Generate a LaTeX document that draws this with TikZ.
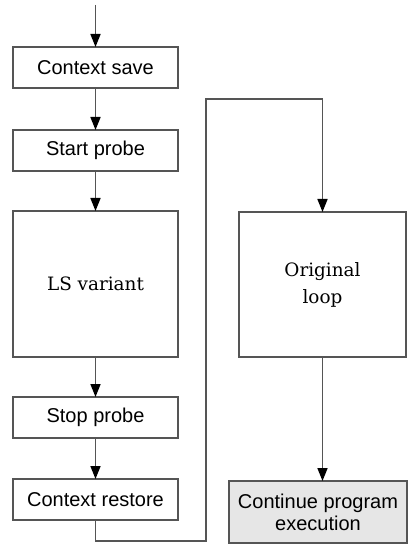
\documentclass[tikz,border=0pt]{standalone}
\usepackage{fontspec}
\setmainfont{Liberation Sans}
\newfontfamily\loopfont{DejaVu Serif}
\usetikzlibrary{arrows.meta,positioning}
\definecolor{linegray}{HTML}{555555}
\definecolor{boxfill}{HTML}{E6E6E6}
\tikzset{%
stage/.style={draw=linegray,line width=1.6pt,minimum width=165pt,minimum height=41pt,
              inner sep=0pt,outer sep=0pt,font=\fontsize{20}{22}\selectfont},
bigstage/.style={stage,minimum height=146pt,font=\loopfont\fontsize{18.4}{27}\selectfont,align=center},
flow/.style={draw=linegray,line width=1.6pt,-{Triangle[length=13pt,width=10pt,color=black]}},
route/.style={draw=linegray,line width=1.6pt}
}
\begin{document}
\begin{tikzpicture}[x=1pt,y=1pt]
\useasboundingbox (0,0) rectangle (408,-545);
\node[stage]                   (save)    at (95.5,-67.5) {Context save};
\node[stage,below=42pt of save]  (start)                   {Start probe};
\node[bigstage,below=40pt of start] (variant)              {LS variant};
\node[stage,below=40pt of variant] (stop)                  {Stop probe};
\node[stage,below=41pt of stop]  (restore)                 {Context restore};
\node[bigstage,minimum width=167pt,minimum height=145pt] (orig) at (322.5,-284.5) {Original\\loop};
\node[stage,fill=boxfill,minimum width=178pt,minimum height=62pt,align=center] (cont)
     at (318,-512) {Continue program\\execution};
\coordinate (entry) at (95.5,-5);
\coordinate (turn)  at (206,-99);

\draw[flow] (entry) -- (save);
\foreach \a/\b in {save/start,start/variant,variant/stop,stop/restore}
{
  \draw[flow] (\a) -- (\b);
}
\draw[flow] (restore.south) -- ++(0,-21) -| (turn) -| (orig.north);
\draw[flow] (orig.south) -- (orig.south |- cont.north);
\end{tikzpicture}
\end{document}
